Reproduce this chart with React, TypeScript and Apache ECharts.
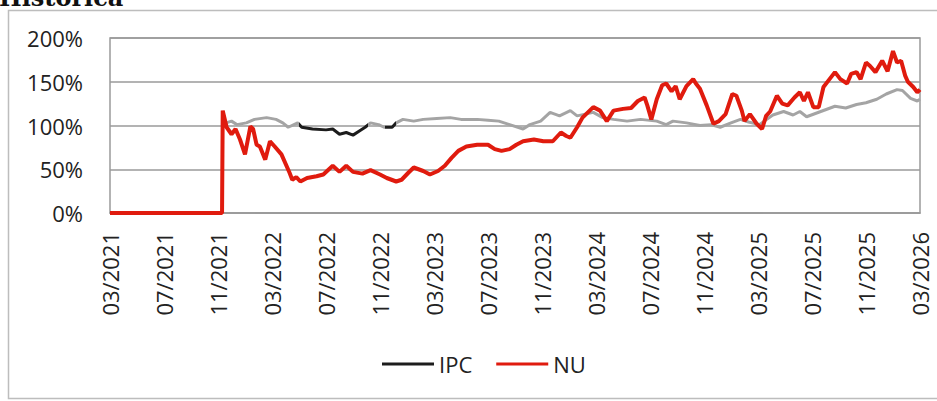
import React, { useEffect, useRef } from "react";
import * as echarts from "echarts";

// x = months since 03/2021
const tickLabels = [
  "03/2021", "07/2021", "11/2021", "03/2022", "07/2022", "11/2022", "03/2023", "07/2023",
  "11/2023", "03/2024", "07/2024", "11/2024", "03/2025", "07/2025", "11/2025", "03/2026",
];
const yTicks = [0, 50, 100, 150, 200];

const nuData: [number, number][] = [
  [0, 0], [8.3, 0], [8.35, 117], [8.64, 98], [9.0, 90], [9.3, 96], [9.63, 84], [10.0, 67],
  [10.4, 99], [10.6, 96], [10.86, 78], [11.1, 76], [11.5, 61], [11.85, 82], [12.2, 76],
  [12.7, 67], [13.3, 46], [13.5, 38], [13.8, 41], [14.1, 36], [14.6, 40], [15.3, 42],
  [15.8, 44], [16.5, 54], [17.0, 47], [17.5, 54], [18.0, 47], [18.7, 45], [19.3, 49],
  [20.0, 44], [20.5, 40], [21.2, 36], [21.6, 38], [22.1, 46], [22.5, 52], [23.2, 48],
  [23.7, 44], [24.3, 48], [24.8, 54], [25.3, 63], [25.8, 71], [26.4, 76], [27.2, 78],
  [28.0, 78], [28.5, 73], [29.0, 71], [29.6, 73], [30.1, 78], [30.6, 82], [31.4, 84],
  [32.1, 82], [32.8, 82], [33.4, 92], [33.8, 88], [34.1, 86], [34.6, 98], [35.0, 109],
  [35.8, 121], [36.3, 117], [36.8, 105], [37.3, 117], [38.0, 119], [38.6, 120], [39.1, 128],
  [39.6, 132], [39.8, 123], [40.1, 107], [40.5, 130], [40.9, 146], [41.2, 148], [41.6, 139],
  [41.9, 145], [42.2, 130], [42.7, 145], [43.2, 153], [43.4, 148], [43.7, 142], [44.2, 123],
  [44.7, 102], [45.1, 105], [45.6, 113], [46.1, 136], [46.4, 134], [46.8, 117], [47.0, 105],
  [47.4, 113], [47.9, 102], [48.3, 96], [48.6, 111], [48.9, 116], [49.4, 134], [49.8, 125],
  [50.2, 123], [50.7, 132], [51.1, 138], [51.4, 128], [51.7, 138], [52.1, 121], [52.5, 121],
  [52.85, 144], [53.3, 153], [53.7, 161], [54.1, 153], [54.6, 148], [54.9, 159], [55.3, 161],
  [55.6, 153], [56.0, 172], [56.3, 168], [56.7, 161], [57.2, 174], [57.6, 162], [58.0, 185],
  [58.3, 172], [58.6, 174], [58.9, 157], [59.1, 150], [59.5, 144], [59.8, 138], [60.0, 141],
];

const ipcData: [number, number][] = [
  [8.6, 103], [9.0, 105], [9.4, 101], [10.1, 103], [10.7, 107], [11.6, 109], [12.3, 107],
  [12.8, 103], [13.2, 98], [13.9, 103], [14.2, 98], [15.0, 96], [16.0, 95], [16.5, 96],
  [17.0, 90], [17.5, 92], [18.0, 89], [18.5, 94], [18.9, 98], [19.3, 103], [19.9, 101],
  [20.3, 98], [20.9, 98], [21.2, 103], [21.7, 107], [22.5, 105], [23.2, 107], [24.2, 108],
  [25.2, 109], [26.0, 107], [27.2, 107], [28.0, 106], [28.8, 105], [29.6, 101], [30.6, 96],
  [31.1, 101], [31.9, 105], [32.6, 115], [33.3, 111], [34.1, 117], [34.6, 111], [35.8, 115],
  [36.5, 109], [37.3, 107], [38.3, 105], [39.3, 107], [40.5, 105], [41.2, 101], [41.7, 105],
  [42.7, 103], [43.7, 100], [44.5, 101], [45.2, 98], [46.0, 103], [46.7, 107], [47.3, 104],
  [48.1, 101], [49.1, 112], [49.9, 116], [50.6, 112], [51.1, 116], [51.6, 110], [52.3, 114],
  [53.0, 118], [53.7, 122], [54.5, 120], [55.3, 124], [56.0, 126], [56.8, 130], [57.5, 136],
  [58.3, 141], [58.7, 140], [59.3, 131], [59.8, 128], [60.0, 130],
];

// IPC stretches that print dark in the reference (month ranges)
const ipcDarkRanges: [number, number][] = [[14.0, 19.1], [20.4, 21.2]];

const FONT = "'Open Sans', 'Noto Sans', sans-serif";
const DARK = "#1c1c1c";
const GRAY = "#a4a4a4";
const RED = "#e01b0e";

export default function App() {
  const ref = useRef<HTMLDivElement>(null);
  useEffect(() => {
    if (!ref.current) return;
    const chart = echarts.init(ref.current, null, { renderer: "svg" });
    chart.setOption({
      animation: false,
      backgroundColor: "#ffffff",
      graphic: [
        {
          type: "rect",
          shape: { x: 8.5, y: 10.5, width: 940, height: 388 },
          style: { fill: "none", stroke: "#bdbdbd", lineWidth: 1.5 },
          silent: true,
        },
        {
          type: "text",
          style: {
            text: "Histórica",
            x: -1,
            y: -3,
            font: "bold 24px 'DejaVu Serif', 'Liberation Serif', serif",
            fill: "#111",
            verticalAlign: "middle",
          },
          silent: true,
        },
      ],
      grid: {
        left: 110,
        right: 17,
        top: 38,
        bottom: 188,
        show: true,
        borderColor: "#9a9a9a",
        borderWidth: 1.5,
      },
      legend: {
        left: 377,
        top: 348,
        itemWidth: 52,
        itemHeight: 14,
        itemGap: 24,
        icon: "path://M0,6 L52,6 L52,9 L0,9 Z",
        textStyle: { fontFamily: FONT, fontSize: 22, color: "#222" },
        data: [
          { name: "IPC", itemStyle: { color: DARK } },
          { name: "NU", itemStyle: { color: RED } },
        ],
      },
      visualMap: {
        type: "piecewise",
        show: false,
        dimension: 0,
        seriesIndex: 0,
        pieces: ipcDarkRanges.map(([a, b]) => ({ gte: a, lt: b, color: DARK })),
        outOfRange: { color: GRAY },
      },
      xAxis: {
        type: "value",
        min: 0,
        max: 60,
        interval: 4,
        axisLine: { show: true, lineStyle: { color: "#9a9a9a", width: 1.5 } },
        axisTick: { show: false },
        splitLine: { show: false },
        axisLabel: {
          rotate: 90,
          margin: 19,
          fontFamily: FONT,
          fontSize: 22,
          color: "#222",
          formatter: (v: number) => tickLabels[Math.round(v / 4)] ?? "",
        },
      },
      yAxis: {
        type: "value",
        min: yTicks[0],
        max: yTicks[yTicks.length - 1],
        interval: 50,
        axisLine: { show: false },
        axisTick: { show: false },
        splitLine: { lineStyle: { color: "#9a9a9a", width: 1.5 } },
        axisLabel: {
          margin: 27,
          fontFamily: FONT,
          fontSize: 22,
          color: "#222",
          formatter: "{value}%",
        },
      },
      series: [
        {
          name: "IPC",
          type: "line",
          data: ipcData,
          symbol: "none",
          z: 2,
          lineStyle: { width: 3 },
        },
        {
          name: "NU",
          type: "line",
          data: nuData,
          symbol: "none",
          z: 3,
          itemStyle: { color: RED },
          lineStyle: { width: 4, color: RED },
        },
      ],
    });
    return () => chart.dispose();
  }, []);
  return (
    <div
      ref={ref}
      style={{ position: "fixed", left: 0, top: 0, width: 937, height: 401 }}
    />
  );
}
